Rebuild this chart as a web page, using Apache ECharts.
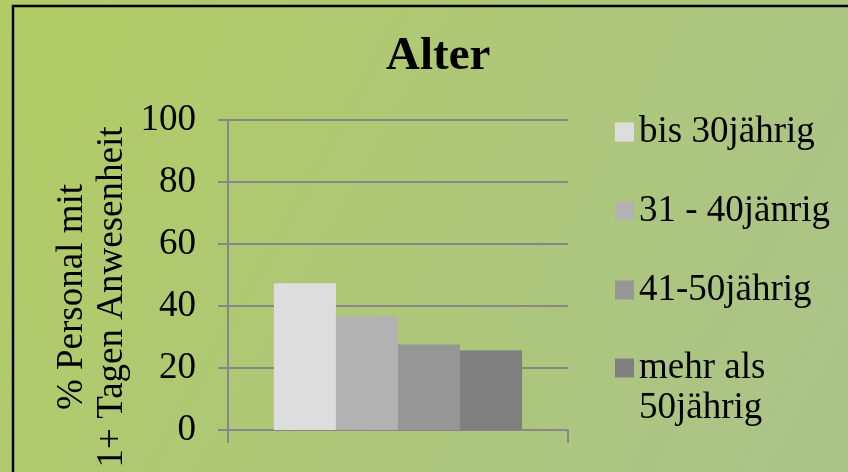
<!DOCTYPE html>
<html>
<head>
<meta charset="utf-8">
<script src="https://cdn.jsdelivr.net/npm/echarts@6/dist/echarts.min.js"></script>
<style>
  html, body { margin: 0; padding: 0; }
  #chart { width: 848px; height: 472px; }
</style>
</head>
<body>
<div id="chart"></div>
<script>
// Share of staff with 1+ days of attendance, by age group
const categories = [''];
const seriesNames = ['bis 30jährig', '31 - 40jänrig', '41-50jährig', 'mehr als 50jährig'];
const seriesValues = [[47.3], [36.7], [27.6], [25.7]];
const yTicks = { min: 0, max: 100, interval: 20 };

const barColors = ['#dddddd', '#b2b2b2', '#969696', '#808080'];
const serif = '"Liberation Serif", "Times New Roman", serif';
const fontSize = 37;
const legendCenters = [132, 211, 290, 368];
const legendLine = 40;

const chart = echarts.init(document.getElementById('chart'));

// One legend block per series so each entry sits at its own height;
// the two-line entry keeps its swatch level with the first line.
const legends = seriesNames.map((name, i) => {
  const twoLine = name === 'mehr als 50jährig';
  return {
    orient: 'vertical',
    left: 615,
    top: twoLine ? legendCenters[i] - legendLine * 1.5 : legendCenters[i] - legendLine / 2,
    padding: 0,
    itemWidth: 19,
    itemHeight: 19,
    icon: 'rect',
    data: [name],
    formatter: n => (twoLine ? '{t|mehr als}\n{t|50jährig}' : '{t|' + n + '}'),
    textStyle: {
      fontFamily: serif,
      fontSize: fontSize,
      lineHeight: legendLine,
      color: '#000',
      padding: twoLine ? [legendLine, 0, 0, 0] : 0,
      rich: {
        t: { fontFamily: serif, fontSize: fontSize, lineHeight: legendLine, color: '#000' }
      }
    }
  };
});

chart.setOption({
  animation: false,
  backgroundColor: {
    type: 'linear', x: 0, y: 0, x2: 1, y2: 1,
    colorStops: [
      { offset: 0, color: 'rgb(178,205,100)' },
      { offset: 0.5, color: 'rgb(174,199,120)' },
      { offset: 1, color: 'rgb(171,195,138)' }
    ]
  },
  graphic: [{
    type: 'rect',
    shape: { x: 13, y: 6, width: 900, height: 600 },
    style: { fill: 'none', stroke: '#000', lineWidth: 2.5 },
    silent: true
  }],
  title: {
    text: 'Alter',
    left: 381,
    top: 28,
    textStyle: {
      fontFamily: serif,
      fontSize: 47,
      fontWeight: 'bold',
      color: '#000'
    }
  },
  legend: legends,
  grid: { left: 228, right: 280, top: 120, bottom: 42, containLabel: false },
  xAxis: {
    type: 'category',
    data: categories,
    axisLine: { lineStyle: { color: '#878787', width: 2 } },
    axisTick: { show: true, length: 13, lineStyle: { color: '#878787', width: 2 } },
    axisLabel: { show: false }
  },
  yAxis: {
    type: 'value',
    min: yTicks.min,
    max: yTicks.max,
    interval: yTicks.interval,
    name: '% Personal mit\n1+ Tagen Anwesenheit',
    nameLocation: 'middle',
    nameRotate: 90,
    nameGap: 96,
    nameTextStyle: {
      fontFamily: serif,
      fontSize: fontSize,
      lineHeight: 40,
      color: '#000',
      padding: [0, 44, 0, 0]
    },
    axisLine: { show: true, lineStyle: { color: '#878787', width: 2 } },
    axisTick: { show: true, length: 10, lineStyle: { color: '#878787', width: 2 } },
    axisLabel: {
      fontFamily: serif,
      fontSize: fontSize,
      color: '#000',
      margin: 32
    },
    splitLine: { lineStyle: { color: '#878787', width: 2 } }
  },
  series: seriesNames.map((name, i) => ({
    type: 'bar',
    name: name,
    data: seriesValues[i],
    barGap: '0%',
    barCategoryGap: '27%',
    itemStyle: { color: barColors[i] }
  }))
});
</script>
</body>
</html>
